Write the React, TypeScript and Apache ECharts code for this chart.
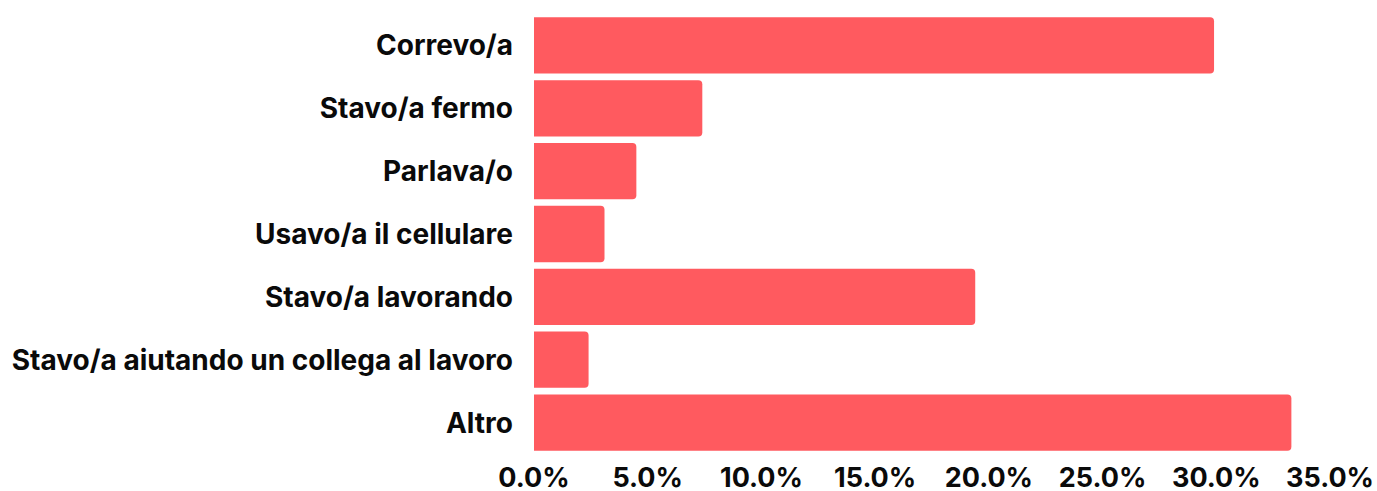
import React, { useEffect, useRef } from "react";
import * as echarts from "echarts";

const categories = [
  "Correvo/a",
  "Stavo/a fermo",
  "Parlava/o",
  "Usavo/a il cellulare",
  "Stavo/a lavorando",
  "Stavo/a aiutando un collega al lavoro",
  "Altro",
];
const values = [29.9, 7.4, 4.5, 3.1, 19.4, 2.4, 33.3];
const xMin = 0;
const xMax = 35;
const xInterval = 5;

export default function App() {
  const ref = useRef<HTMLDivElement>(null);
  useEffect(() => {
    if (!ref.current) return;
    const chart = echarts.init(ref.current, null, { renderer: "svg" });
    chart.setOption({
      animation: false,
      backgroundColor: "#ffffff",
      grid: { left: 534, right: 43, top: 14, bottom: 31, containLabel: false },
      xAxis: {
        type: "value",
        min: xMin,
        max: xMax,
        interval: xInterval,
        axisLine: { show: false },
        axisTick: { show: false },
        splitLine: { show: false },
        axisLabel: {
          formatter: (v: number) => v.toFixed(1) + "%",
          fontFamily: "Inter",
          fontWeight: 700,
          fontSize: 27,
          color: "#0a0a0a",
          margin: 10,
          hideOverlap: false,
        },
      },
      yAxis: {
        type: "category",
        data: categories,
        inverse: true,
        axisLine: { show: false },
        axisTick: { show: false },
        splitLine: { show: false },
        axisLabel: {
          fontFamily: "Inter",
          fontWeight: 700,
          fontSize: 28,
          color: "#0a0a0a",
          margin: 21,
          interval: 0,
        },
      },
      series: [
        {
          type: "bar",
          data: values,
          barCategoryGap: "10.5%",
          itemStyle: { color: "#ff5a5f", borderRadius: [0, 4, 4, 0] },
        },
      ],
    });
    return () => chart.dispose();
  }, []);
  return (
    <div
      ref={ref}
      style={{ position: "absolute", left: 0, top: 0, width: 1377, height: 491 }}
    />
  );
}
